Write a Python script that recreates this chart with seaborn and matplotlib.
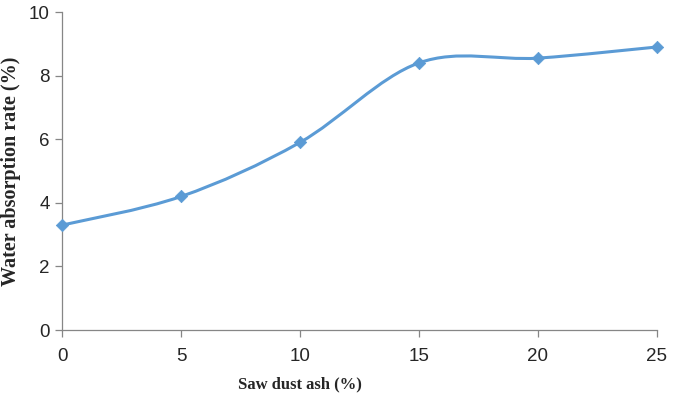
import seaborn as sns
import numpy as np
import pandas as pd
import matplotlib.pyplot as plt
from matplotlib.path import Path
from matplotlib.patches import PathPatch

# data
ash = [0, 5, 10, 15, 20, 25]
absorption = [3.3, 4.2, 5.9, 8.4, 8.55, 8.9]
df = pd.DataFrame({'ash': ash, 'absorption': absorption})

sns.set_style('white')
color = '#5B9BD5'

fig = plt.figure(figsize=(6.83, 4.07), dpi=100)
ax = fig.add_axes([0.0908, 0.189, 0.871, 0.7815])

# smooth line like excel (catmull-rom bezier through the points)
pts = np.column_stack([ash, absorption]).astype(float)
verts = [pts[0]]
codes = [Path.MOVETO]
n = len(pts)
for i in range(n - 1):
    p0 = pts[i - 1] if i > 0 else pts[i]
    p1 = pts[i]
    p2 = pts[i + 1]
    p3 = pts[i + 2] if i + 2 < n else pts[i + 1]
    c1 = p1 + (p2 - p0) / 6
    c2 = p2 - (p3 - p1) / 6
    verts += [c1, c2, p2]
    codes += [Path.CURVE4] * 3
ax.add_patch(PathPatch(Path(verts, codes), fill=False, edgecolor=color, lw=2.2,
                       capstyle='round', joinstyle='round'))

sns.scatterplot(data=df, x='ash', y='absorption', marker='D', s=40, color=color,
                edgecolor=color, ax=ax, zorder=3, clip_on=False)

ax.set_xlim(0, 25)
ax.set_ylim(0, 10)
ax.set_xticks([0, 5, 10, 15, 20, 25])
ax.set_yticks([0, 2, 4, 6, 8, 10])

for s in ['top', 'right']:
    ax.spines[s].set_visible(False)
for s in ['left', 'bottom']:
    ax.spines[s].set_color('#868686')
    ax.spines[s].set_linewidth(0.9)

ax.tick_params(axis='both', which='major', direction='out', length=5, width=0.9,
               color='#868686', labelsize=13.5, labelcolor='#262626',
               bottom=True, left=True)
ax.tick_params(axis='x', pad=8)
ax.tick_params(axis='y', pad=4)
for lab in ax.get_xticklabels() + ax.get_yticklabels():
    lab.set_fontfamily('Liberation Sans')

ax.set_xlabel('Saw dust ash (%)', fontfamily='Liberation Serif', fontweight='bold',
              fontsize=12)
ax.set_ylabel('Water absorption rate (%)', fontfamily='Liberation Serif', fontweight='bold',
              fontsize=14.5)
ax.xaxis.set_label_coords(0.40, -0.145)
ax.yaxis.set_label_coords(-0.069, 0.5)

fig.savefig('out.png', dpi=100)
